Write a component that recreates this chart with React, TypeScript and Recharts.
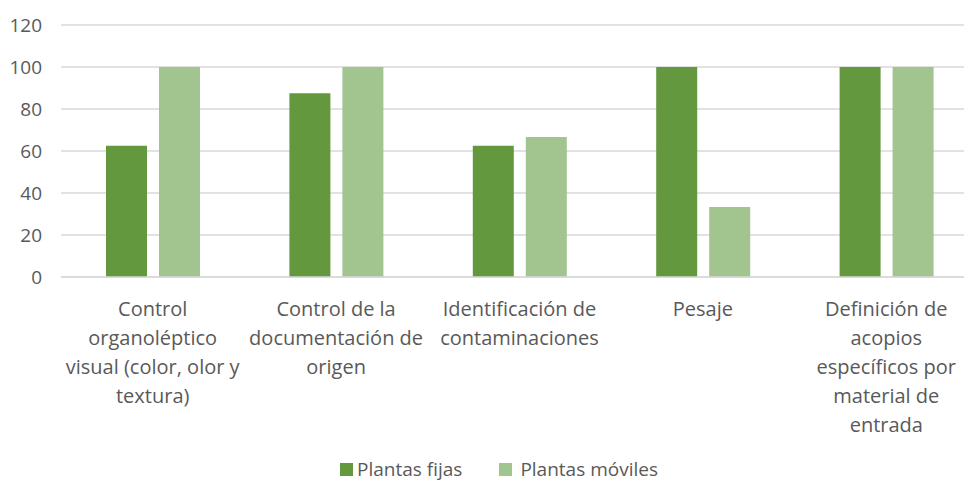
import React from "react";
import { BarChart, Bar, XAxis, YAxis, CartesianGrid, Legend } from "recharts";

const categories = [
  "Control organoléptico visual (color, olor y textura)",
  "Control de la documentación de origen",
  "Identificación de contaminaciones",
  "Pesaje",
  "Definición de acopios específicos por material de entrada",
];
const tickLines = [
  ["Control", "organoléptico", "visual (color, olor y", "textura)"],
  ["Control de la", "documentación de", "origen"],
  ["Identificación de", "contaminaciones"],
  ["Pesaje"],
  ["Definición de", "acopios", "específicos por", "material de", "entrada"],
];
const plantasFijas = [62.5, 87.5, 62.5, 100, 100];
const plantasMoviles = [100, 100, 66.7, 33.3, 100];
const yTicks = [0, 20, 40, 60, 80, 100, 120];
const seriesNames = ["Plantas fijas", "Plantas móviles"];
const seriesColors = ["#63983E", "#A2C48F"];

const data = categories.map((c, i) => ({
  name: c,
  fijas: plantasFijas[i],
  moviles: plantasMoviles[i],
}));

const FONT = "'Open Sans', sans-serif";
const TEXT = "#595959";

const XTick = (props: any) => {
  const { x, y, index } = props;
  const lines = tickLines[index] || [];
  return (
    <text
      x={x}
      y={y + 39}
      textAnchor="middle"
      fill={TEXT}
      fontFamily={FONT}
      fontSize={20}
    >
      {lines.map((l, i) => (
        <tspan key={i} x={x} dy={i === 0 ? 0 : 29}>
          {l}
        </tspan>
      ))}
    </text>
  );
};

const LegendContent = () => (
  <div
    style={{
      display: "flex",
      justifyContent: "center",
      alignItems: "center",
      height: 30,
      paddingLeft: 20,
      transform: "translateY(3px)",
      fontFamily: FONT,
      fontSize: 19,
      lineHeight: "22px",
      color: TEXT,
    }}
  >
    {seriesNames.map((n, i) => (
      <div
        key={n}
        style={{ display: "flex", alignItems: "center", marginRight: i === 0 ? 37 : 0 }}
      >
        <div
          style={{
            width: 13,
            height: 13,
            background: seriesColors[i],
            marginRight: i === 0 ? 4 : 8,
          }}
        />
        <span>{n}</span>
      </div>
    ))}
  </div>
);

export default function App() {
  return (
    <div
      style={{
        position: "absolute",
        left: 0,
        top: 0,
        width: 964,
        height: 481,
        overflow: "hidden",
        background: "#fff",
      }}
    >
      <BarChart
        width={978}
        height={481}
        data={data}
        margin={{ top: 25, right: 0, bottom: 0, left: 0 }}
        barSize={41}
        barGap={12}
      >
        <CartesianGrid vertical={false} stroke="#D9D9D9" strokeWidth={1.5} />
        <XAxis
          dataKey="name"
          height={174}
          interval={0}
          tickLine={false}
          tickSize={0}
          tickMargin={0}
          axisLine={{ stroke: "#D9D9D9", strokeWidth: 1.5 }}
          tick={<XTick />}
        />
        <YAxis
          width={61}
          domain={[0, 120]}
          ticks={yTicks}
          tickLine={false}
          axisLine={false}
          tickSize={0}
          tickMargin={19}
          tick={{ fill: TEXT, fontFamily: FONT, fontSize: 19 }}
        />
        <Legend verticalAlign="bottom" height={30} content={<LegendContent />} />
        <Bar
          dataKey="fijas"
          name={seriesNames[0]}
          fill={seriesColors[0]}
          isAnimationActive={false}
        />
        <Bar
          dataKey="moviles"
          name={seriesNames[1]}
          fill={seriesColors[1]}
          isAnimationActive={false}
        />
      </BarChart>
    </div>
  );
}
